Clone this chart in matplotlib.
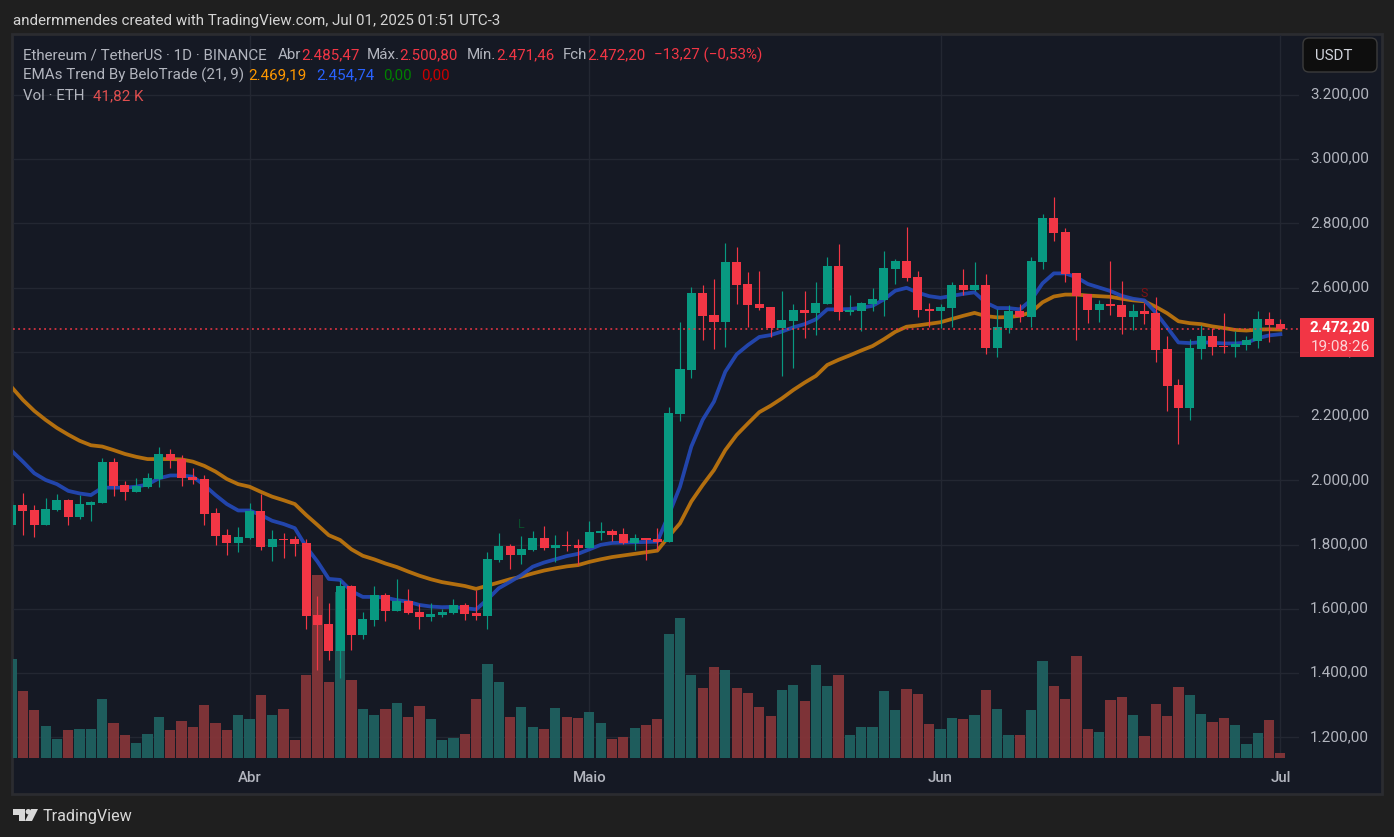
import numpy as np
import matplotlib
matplotlib.use("Agg")
import matplotlib.pyplot as plt
import matplotlib.patches as patches
from matplotlib.transforms import IdentityTransform, ScaledTranslation

plt.rcParams['font.family'] = ['Roboto', 'DejaVu Sans']

W, H = 1394, 837

# candles, one per day from Mar 11 to Jul 1
opens = [1861, 1923, 1907.5, 1861, 1907.5, 1938.7, 1885.8, 1923, 1929.4, 2057,
         1985.4, 1963.6, 1979, 2004, 2082, 2066.3, 2010, 2004, 1898, 1829.7,
         1804.8, 1820.4, 1904.4, 1792.4, 1817, 1817, 1804.8, 1580.7, 1552.7, 1468.6,
         1671, 1518.4, 1565, 1643, 1593, 1624.3, 1590, 1574.5, 1580.7, 1587,
         1612, 1587, 1577.6, 1752, 1795.5, 1767.5, 1783, 1820.4, 1789, 1798.6,
         1798.6, 1789, 1836, 1842, 1833, 1804.8, 1820, 1817, 1808, 2206.5,
         2343.4, 2583, 2514.7, 2492.9, 2679.6, 2611.2, 2548.9, 2539.5, 2474.2, 2496,
         2530.2, 2521, 2548.9, 2667.2, 2524, 2527, 2549, 2561.4, 2657.9, 2682.8,
         2633, 2533.3, 2527, 2536.4, 2608, 2592.5, 2608, 2411.8, 2474, 2527,
         2508.3, 2679.6, 2816.5, 2773, 2645.3, 2580, 2530.1, 2548.8, 2545.7, 2508.3,
         2527, 2520.8, 2408.7, 2296.6, 2225, 2408.7, 2449.2, 2418, 2415, 2421.2,
         2433.6, 2502.1, 2485.47]
closes = [1923, 1904.5, 1861, 1910.7, 1938.7, 1885.8, 1926, 1932.5, 2057, 1982,
          1963.6, 1982, 2007, 2082, 2063, 2007, 2001, 1895, 1826.6, 1804.8,
          1823.5, 1904.4, 1792.4, 1817, 1814, 1801.7, 1577.6, 1549.6, 1468.6, 1671,
          1518.4, 1568, 1643, 1593, 1624.3, 1587, 1574.5, 1583.8, 1590, 1612,
          1584, 1577.6, 1755, 1795.5, 1767.5, 1786, 1820.4, 1789, 1798.6, 1796.5,
          1789, 1839, 1842, 1829.7, 1804.8, 1820.4, 1814, 1808, 2209.6, 2346.5,
          2583, 2511.5, 2492.9, 2679.6, 2608, 2545.8, 2536.4, 2474.2, 2499, 2530.2,
          2521, 2552, 2667.2, 2524, 2530.2, 2552, 2564.5, 2661, 2682.8, 2629.8,
          2530.2, 2527, 2539.5, 2608, 2592.5, 2608, 2411.8, 2477.2, 2527, 2508.3,
          2682.7, 2816.5, 2769.8, 2642.2, 2573.7, 2530.1, 2548.8, 2542.6, 2508.3, 2527,
          2517.7, 2405.6, 2293.5, 2225, 2411.8, 2449.2, 2415, 2416, 2424.3, 2436.7,
          2502.1, 2483.4, 2472.2]
highs = [1935, 1960.5, 1923, 1945, 1957.4, 1941.8, 1954, 1935.6, 2069.4, 2069.4,
         1997.8, 2007, 2022.7, 2103.7, 2097.4, 2078.8, 2038.3, 2016.5, 1913.8, 1848.4,
         1854.6, 1929.4, 1957.4, 1845.3, 1836, 1826.6, 1817, 1640, 1618, 1689.6,
         1673, 1590, 1671, 1649, 1692.8, 1661.6, 1615, 1618, 1599.4, 1630.5,
         1618, 1658.5, 1776.8, 1836, 1801.7, 1826.6, 1842, 1857.8, 1829.7, 1842,
         1817, 1873, 1870, 1848.4, 1851.5, 1832.9, 1820, 1851.6, 2228.3, 2492.9,
         2601.8, 2608, 2626.7, 2738.8, 2726.3, 2648.5, 2651.6, 2539.5, 2589.4, 2548.9,
         2589.4, 2617.4, 2695.2, 2735.7, 2577, 2555, 2598.7, 2713.9, 2689, 2788.6,
         2651.6, 2552, 2549, 2617.4, 2657.9, 2679.6, 2642, 2533.2, 2545.7, 2548.8,
         2695.1, 2829, 2881.9, 2785.4, 2645.3, 2580, 2561.3, 2682.7, 2620.4, 2548.8,
         2552, 2570.6, 2449, 2315.3, 2439.8, 2483.4, 2474, 2520.8, 2464.8, 2449.2,
         2527, 2524, 2500.8]
lows = [1850, 1829.7, 1823.5, 1861, 1904.5, 1861, 1879.5, 1873.3, 1929.4, 1951.1,
        1938.7, 1963.6, 1976, 1979, 2038.3, 1982, 1988.5, 1861, 1798.6, 1767.5,
        1776.8, 1817, 1783, 1748.8, 1758, 1764.4, 1537, 1409, 1440.6, 1383.5,
        1471.8, 1506, 1546, 1562, 1593, 1584, 1537, 1562, 1574.5, 1584,
        1565, 1565, 1537, 1745.7, 1724, 1739.5, 1780, 1783, 1745.7, 1780,
        1736, 1789, 1814, 1811, 1801.7, 1783, 1752, 1783, 1808, 2184.7,
        2318.5, 2436.8, 2408.8, 2415, 2548.9, 2477.3, 2530, 2446, 2324.8, 2349.7,
        2443, 2452.4, 2548.9, 2499, 2514.7, 2465, 2527, 2511.5, 2611.2, 2620.5,
        2508.4, 2477.3, 2474, 2477.3, 2577, 2589.4, 2393, 2383.8, 2458.5, 2492.8,
        2477.2, 2657.8, 2745, 2617.3, 2436.7, 2489.7, 2492.8, 2514.6, 2455.4, 2467.9,
        2486.5, 2368, 2215.7, 2113, 2187.7, 2377.6, 2390, 2396, 2383.8, 2405.6,
        2411.8, 2430.5, 2471.46]
volumes = [879, 600, 429, 285, 168, 249, 258, 258, 528, 312,
           204, 132, 213, 366, 249, 330, 276, 474, 312, 249,
           384, 348, 564, 384, 438, 159, 735, 1626, 672, 1473,
           690, 438, 384, 438, 492, 366, 465, 348, 159, 177,
           213, 528, 834, 672, 366, 456, 276, 258, 447, 366,
           357, 411, 312, 168, 186, 267, 294, 348, 1104, 1248,
           735, 627, 807, 780, 627, 582, 456, 375, 609, 654,
           510, 825, 645, 735, 204, 276, 276, 600, 429, 618,
           573, 303, 258, 357, 348, 384, 609, 438, 204, 204,
           429, 861, 645, 528, 906, 258, 231, 519, 546, 384,
           195, 483, 375, 636, 564, 393, 321, 357, 294, 123,
           222, 339, 41.82]
ema_fast = [2092, 2058, 2022, 2001, 1988, 1967, 1959, 1954, 1977, 1977,
            1977, 1980, 1987, 2006, 2015, 2015, 2011, 1985, 1954, 1926,
            1906, 1906, 1892, 1874, 1864, 1851, 1793, 1747, 1693, 1690,
            1655, 1637, 1637, 1635, 1627, 1622, 1612, 1607, 1605, 1606,
            1602, 1598, 1629, 1664, 1684, 1705, 1731, 1744, 1754, 1764,
            1771, 1785, 1799, 1805, 1806, 1807, 1808, 1809, 1892, 1980,
            2105, 2188, 2245, 2338, 2392, 2421, 2446, 2452, 2463, 2476,
            2486, 2501, 2532, 2532, 2533, 2537, 2543, 2563, 2590, 2599,
            2584, 2573, 2568, 2574, 2580, 2585, 2553, 2536, 2536, 2532,
            2561, 2613, 2644, 2644, 2632, 2611, 2600, 2589, 2574, 2565,
            2560, 2522, 2476, 2429, 2427, 2430, 2428, 2426, 2426, 2428,
            2442, 2451, 2454.74]
ema_slow = [2290, 2250, 2216, 2188, 2163, 2142, 2123, 2109, 2105, 2094,
            2082, 2073, 2066, 2066, 2066, 2065, 2058, 2045, 2027, 2004,
            1988, 1980, 1964, 1949, 1938, 1926, 1892, 1861, 1829, 1814,
            1785, 1765, 1754, 1741, 1730, 1716, 1703, 1692, 1683, 1677,
            1671, 1662, 1672, 1682, 1692, 1700, 1710, 1719, 1726, 1732,
            1736, 1746, 1754, 1761, 1766, 1771, 1776, 1781, 1825, 1866,
            1934, 1985, 2032, 2094, 2141, 2177, 2212, 2232, 2255, 2281,
            2304, 2325, 2359, 2375, 2389, 2404, 2418, 2439, 2462, 2478,
            2482, 2487, 2492, 2502, 2512, 2521, 2511, 2507, 2508, 2512,
            2523, 2554, 2572, 2578, 2578, 2575, 2573, 2571, 2565, 2560,
            2557, 2540, 2520, 2495, 2489, 2486, 2479, 2474, 2468, 2466,
            2469, 2470, 2469.19]

price_ticks = [1200, 1400, 1600, 1800, 2000, 2200, 2400, 2600, 2800, 3000, 3200]
price_labels = ['1.200,00', '1.400,00', '1.600,00', '1.800,00', '2.000,00', '2.200,00',
                '2.400,00', '2.600,00', '2.800,00', '3.000,00', '3.200,00']
month_pos = [21, 51, 82, 112]
month_labels = ['Abr', 'Maio', 'Jun', 'Jul']
last_price = 2472.20

UP = '#089981'
DOWN = '#f23645'
VOL_UP = '#1f6060'
VOL_DOWN = '#843539'
TXT = '#b2b5be'
GRID = '#232732'
PANEL = '#151924'


def fx(px):
    return px / W


def fy(py):
    return 1 - py / H


def label(px, py, s, color=TXT, size=10.9, **kw):
    kw.setdefault('va', 'center')
    return fig.text(fx(px), fy(py + 1), s, color=color, fontsize=size, **kw)


# the small extra keeps 8.37 in from rounding down to 836 px
fig = plt.figure(figsize=((W + 0.1) / 100, (H + 0.1) / 100), dpi=100, facecolor='#1f1f1f')

# dark chart panel with its thin border
fig.add_artist(patches.Rectangle((fx(12), fy(794)), 1370 / W, 760 / H, transform=fig.transFigure,
                                 facecolor=PANEL, edgecolor='#2b2c30', linewidth=2, zorder=0))

vol_ax = fig.add_axes([fx(13), fy(758), 1286 / W, 723 / H], facecolor='none', zorder=1)
ax = fig.add_axes([fx(13), fy(758), 1286 / W, 723 / H], facecolor='none', zorder=2)

x = np.arange(len(closes))
o = np.array(opens)
c = np.array(closes)
is_up = c >= o
colors = [UP if u else DOWN for u in is_up]
vol_colors = [VOL_UP if u else VOL_DOWN for u in is_up]

# volume first, grid stays visible through it
vol_ax.bar(x, volumes, width=0.9, color=vol_colors, alpha=0.95, linewidth=0, zorder=3)
vol_ax.set_xlim(0.122, 113.65)
vol_ax.set_ylim(0, 6435)
vol_ax.axis('off')

ax.set_xlim(0.122, 113.65)
ax.set_ylim(1135.6, 3386.3)
ax.set_xticks(month_pos)
ax.set_xticklabels(month_labels, fontsize=10.8, color=TXT, fontweight='medium')
ax.set_yticks(price_ticks)
ax.set_yticklabels(price_labels, fontsize=11, color=TXT)
ax.yaxis.tick_right()
ax.tick_params(axis='x', length=0, pad=9)
ax.tick_params(axis='y', length=0, pad=8)
for s in ax.spines.values():
    s.set_visible(False)
for t in ax.get_yticklabels():
    t.set_transform(t.get_transform() + ScaledTranslation(0, 2 / 100, fig.dpi_scale_trans))

# gridlines sit under the bars
for m in month_pos:
    vol_ax.axvline(m, color=GRID, lw=1, zorder=1)
for p in price_ticks:
    vol_ax.axhline((p - 1135.6) / (3386.3 - 1135.6) * 6435, color=GRID, lw=1, zorder=1)

ax.plot(x, ema_slow, color='#b36f0f', lw=2.7, zorder=3, solid_joinstyle='round')
ax.plot(x, ema_fast, color='#2449b8', lw=2.7, alpha=0.92, zorder=3, solid_joinstyle='round')

ax.vlines(x, lows, highs, colors=colors, lw=0.85, zorder=4)
ax.bar(x, np.abs(c - o), bottom=np.minimum(o, c), width=0.8, color=colors, linewidth=0, zorder=5)

# dotted last price line
ax.axhline(last_price, color=DOWN, lw=1.1, ls=(0, (1.2, 2.2)), zorder=6)

# L / S markers of the indicator
ax.text(45, 1864, 'L', color='#0b4d2c', fontsize=9, ha='center', va='center', zorder=2)
ax.text(100, 2583, 'S', color='#7d1216', fontsize=9, ha='center', va='center', zorder=6)

# top line
label(13, 20, 'andermmendes created with TradingView.com, Jul 01, 2025 01:51 UTC-3', '#d4d4d4')

# legend rows
label(23, 54, 'Ethereum / TetherUS · 1D · BINANCE')
label(278, 54, 'Abr')
label(301, 54, '2.485,47', DOWN)
label(367, 54, 'Máx.')
label(399.5, 54, '2.500,80', DOWN)
label(467, 54, 'Mín.')
label(496, 54, '2.471,46', DOWN)
label(563, 54, 'Fch')
label(587, 54, '2.472,20', DOWN)
label(654, 54, '−13,27 (−0,53%)', DOWN)

label(23, 74, 'EMAs Trend By BeloTrade (21, 9)')
label(248, 74, '2.469,19', '#ff9800')
label(316, 74, '2.454,74', '#2962ff')
label(383, 74, '0,00', '#008000')
label(421, 74, '0,00', '#cc0000')

label(23, 95, 'Vol · ETH')
label(93, 95, '41,82 K', '#e04f4f')

# currency button, drawn in display pixels
fig.add_artist(patches.FancyBboxPatch((1303, H - 72), 74, 34, transform=IdentityTransform(),
                                      boxstyle=patches.BoxStyle('Round', pad=0, rounding_size=6),
                                      facecolor='#0e0e0e', edgecolor='#3b3b3b', linewidth=1, zorder=5))
label(1315, 55, 'USDT', '#d1d4dc', zorder=6)

# last price tag
fig.add_artist(patches.Rectangle((fx(1300), fy(357)), 74 / W, 39 / H, transform=fig.transFigure,
                                 facecolor=DOWN, edgecolor='none', zorder=5))
label(1370, 327, '2.472,20', 'white', 11, ha='right', fontweight='bold', zorder=6)
label(1370, 346, '19:08:26', '#fbd3d6', 11, ha='right', zorder=6)

# logo
logo = '#d8d8d8'
fig.add_artist(patches.Polygon([(fx(13), fy(809)), (fx(25), fy(809)), (fx(25), fy(821)), (fx(19), fy(821)),
                                (fx(19), fy(815)), (fx(13), fy(815))], transform=fig.transFigure, facecolor=logo))
fig.add_artist(patches.Polygon([(fx(31), fy(809)), (fx(38), fy(809)), (fx(32), fy(821)), (fx(25), fy(821))],
                               transform=fig.transFigure, facecolor=logo))
fig.add_artist(patches.Ellipse((fx(28.3), fy(811.7)), 5.4 / W, 5.4 / H, transform=fig.transFigure, facecolor=logo))
label(43, 815, 'TradingView', logo, 11.6)

fig.savefig('out.png', dpi=100, facecolor=fig.get_facecolor())
